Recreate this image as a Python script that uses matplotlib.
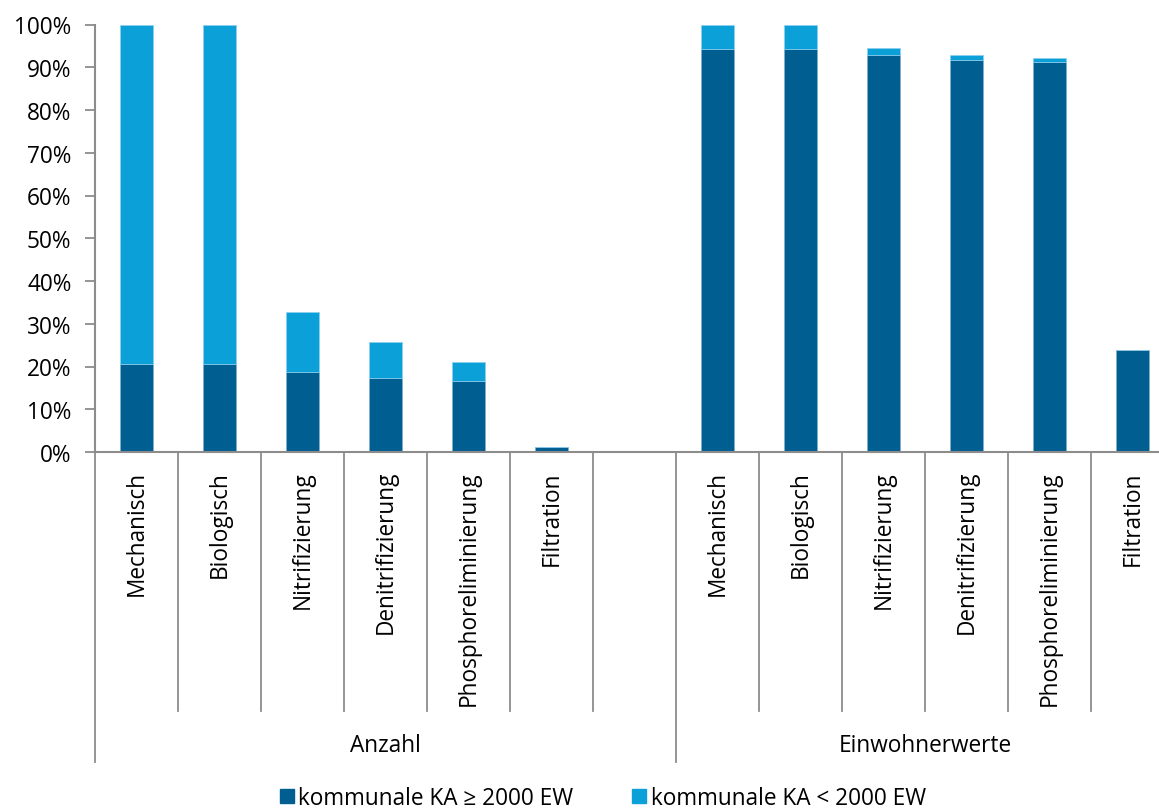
import numpy as np
import matplotlib.pyplot as plt
from matplotlib.patches import Patch
from matplotlib.lines import Line2D

plt.rcParams['font.family'] = ['Open Sans', 'DejaVu Sans']

kategorien = ["Mechanisch", "Biologisch", "Nitrifizierung", "Denitrifizierung",
              "Phosphoreliminierung", "Filtration"]
gruppen = ["Anzahl", "Einwohnerwerte"]

# Anteile in % (gross = KA >= 2000 EW, gesamt = Summe beider Klassen)
anzahl_gross = [20.7, 20.7, 18.7, 17.3, 16.7, 1.2]
anzahl_gesamt = [100, 100, 32.7, 25.8, 21.1, 1.2]
ew_gross = [94.3, 94.3, 92.9, 91.8, 91.3, 23.9]
ew_gesamt = [100, 100, 94.5, 92.9, 92.2, 23.9]

dunkel = "#005e91"
hell = "#0ca0d8"
grau = "#8c8c8c"
fs = 16.3

gross = np.array(anzahl_gross + [0] + ew_gross) / 100
gesamt = np.array(anzahl_gesamt + [0] + ew_gesamt) / 100
klein = gesamt - gross
x = np.arange(len(gross))

W, H = 1159, 812
fig = plt.figure(figsize=(W / 100, H / 100), dpi=100)
x0, x1, y0, y1 = 95, 1174, 453, 25.5
ax = fig.add_axes([x0 / W, (H - y0) / H, (x1 - x0) / W, (y0 - y1) / H])

ax.bar(x, gross, width=0.4, color=dunkel, edgecolor="#7fb0cc", linewidth=0.5)
ax.bar(x, klein, width=0.4, bottom=gross, color=hell, edgecolor="#8fd0ee", linewidth=0.5)

ax.set_xlim(-0.5, 12.5)
ax.set_ylim(0, 1)
ax.set_yticks(np.arange(0, 1.01, 0.1))
ax.set_yticklabels([f"{int(round(v * 100))}%" for v in np.arange(0, 1.01, 0.1)], fontsize=fs)
ax.set_xticks([])
ax.tick_params(axis="y", length=7, width=1.3, color=grau, pad=10)
for s in ["top", "right"]:
    ax.spines[s].set_visible(False)
for s in ["left", "bottom"]:
    ax.spines[s].set_color(grau)
    ax.spines[s].set_linewidth(1.5)

def ay(py):
    return (y0 - py) / (y0 - y1)

trans = ax.get_xaxis_transform()
for b in np.arange(0.5, 12, 1):
    if b == 6.5:
        continue
    ax.add_line(Line2D([b, b], [0, ay(712)], transform=trans, color=grau, lw=1.3, clip_on=False))
for b in [-0.5, 6.5]:
    ax.add_line(Line2D([b, b], [0, ay(763)], transform=trans, color=grau, lw=1.3, clip_on=False))

labels = kategorien + [""] + kategorien
for xi, lab in zip(x, labels):
    ax.text(xi, ay(471), lab, transform=trans, rotation=90, ha="center", va="top", fontsize=fs)

ax.text(3, ay(746), gruppen[0], transform=trans, ha="center", va="center", fontsize=fs)
ax.text(9.5, ay(746), gruppen[1], transform=trans, ha="center", va="center", fontsize=fs)

handles = [Patch(color=dunkel, label="kommunale KA ≥ 2000 EW"),
           Patch(color=hell, label="kommunale KA < 2000 EW")]
fig.legend(handles=handles, loc="center", bbox_to_anchor=(603 / W, 1 - 799 / H), ncol=2,
           frameon=False, fontsize=fs, handlelength=0.6, handleheight=0.6,
           handletextpad=0.2, columnspacing=2.6)

fig.savefig("out.png", dpi=100)
